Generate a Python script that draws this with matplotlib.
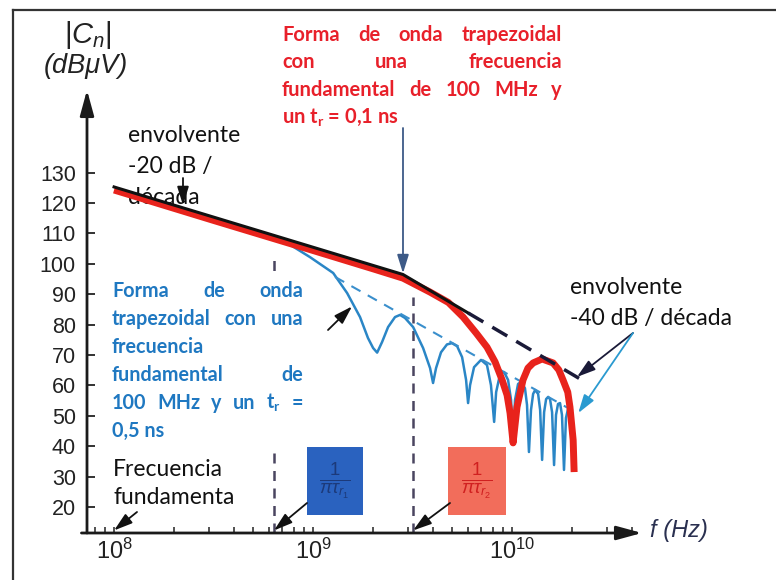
import numpy as np
import matplotlib
matplotlib.use("Agg")
import matplotlib.pyplot as plt
import matplotlib.transforms as mtransforms
from matplotlib.patches import Rectangle
from matplotlib.ticker import LogLocator, NullFormatter, FixedLocator

plt.rcParams['font.family'] = ['Liberation Sans', 'DejaVu Sans']
plt.rcParams['mathtext.fontset'] = 'custom'
plt.rcParams['mathtext.rm'] = 'Liberation Sans'
plt.rcParams['mathtext.it'] = 'Liberation Sans:italic'

W, H = 776, 580

# parámetros de las señales trapezoidales
f0 = 100e6
tr1 = 0.5e-9
tr2 = 0.1e-9

# espectro con tr = 0,1 ns (GHz, dBuV)
red_ghz = [0.1, 0.316, 1.0, 1.995, 2.831, 3.873, 4.786, 5.675, 6.607, 7.482,
           8.222, 8.913, 9.441, 9.772, 10.12, 10.59, 11.35, 12.02, 12.76, 14.16,
           16.07, 17.18, 18.03, 19.05, 19.54, 20.28, 20.51]
red_db = [124.3, 114.3, 104.4, 98.4, 95.3, 90.7, 87.3, 82.5, 77.2, 72.6,
          67.7, 61.8, 56.8, 50.9, 41.1, 52.9, 61.8, 65.7, 67.4, 68.7,
          67.4, 65.1, 61.8, 57.8, 52.9, 42.0, 31.5]

# espectro con tr = 0,5 ns (GHz, dBuV)
blue_ghz = [0.766, 0.966, 1.262, 1.483, 1.722, 1.888, 2.004, 2.099, 2.223, 2.382,
            2.582, 2.735, 2.897, 3.184, 3.573, 3.873, 4.009, 4.150, 4.395, 4.710,
            4.989, 5.297, 5.610, 5.875, 6.012, 6.152, 6.442, 6.982, 7.482, 7.834,
            8.128, 8.318, 8.710, 9.120, 9.550, 9.886, 10.12, 10.35, 10.72, 11.09,
            11.61, 11.89, 12.16, 12.45, 12.76, 13.06, 13.52, 13.84, 14.16, 14.49,
            14.83, 15.17, 15.52, 15.89, 16.26, 16.63, 17.02, 17.42, 17.82, 18.24,
            18.66, 19.10, 19.54, 20.04, 20.28]
blue_db = [106.3, 102.2, 97.0, 90.4, 82.5, 75.6, 72.3, 70.8, 74.3, 79.2,
           82.5, 83.2, 82.2, 79.2, 72.3, 65.7, 60.8, 65.7, 70.9, 73.5,
           73.9, 72.9, 69.3, 61.8, 54.2, 60.1, 66.0, 68.4, 66.7, 60.1,
           48.0, 57.8, 63.8, 64.4, 61.8, 55.2, 42.0, 55.2, 60.5, 61.1,
           59.1, 53.6, 38.1, 51.9, 57.2, 58.5, 57.2, 51.9, 35.5, 51.2,
           55.5, 56.2, 55.5, 51.2, 33.8, 50.3, 53.9, 54.2, 50.3, 32.2,
           49.3, 52.2, 49.3, 42.0, 32.2]

# envolventes
env_solid_ghz = [0.1, 2.831, 6.03]
env_solid_db = [125.3, 96.5, 83.8]
env_dash_ghz = [6.03, 23.8]
env_dash_db = [83.8, 60.8]
env_blue_ghz = [1.29, 21.2]
env_blue_db = [95.7, 50.9]

yticks = list(range(20, 140, 10))
xticks = [1e8, 1e9, 1e10]
xtick_labels = ["$10^8$", "$10^9$", "$10^{10}$"]

red_f = np.array(red_ghz) * 1e9
blue_f = np.array(blue_ghz) * 1e9
fc1 = 1 / (np.pi * tr1)
fc2 = 1 / (np.pi * tr2)

fig = plt.figure(figsize=(W / 100, H / 100), dpi=100)
fig.patch.set_facecolor("white")
# coordenadas en pixeles desde la esquina superior izquierda
pix = mtransforms.Affine2D().scale(1 / W, -1 / H).translate(0, 1) + fig.transFigure

ax = fig.add_axes([87 / W, 1 - 533 / H, (642 - 87) / W, (533 - 90) / H])
ax.set_xscale("log")
ax.set_xlim(10 ** 7.864, 10 ** 10.653)
ax.set_ylim(11.45, 157.2)
ax.patch.set_alpha(0)
for s in ax.spines.values():
    s.set_visible(False)

ax.set_yticks(yticks)
ax.set_yticklabels([str(v) for v in yticks])
ax.xaxis.set_major_locator(FixedLocator(xticks))
ax.set_xticklabels(xtick_labels)
ax.xaxis.set_minor_locator(LogLocator(base=10, subs=np.arange(2, 10)))
ax.xaxis.set_minor_formatter(NullFormatter())
ax.tick_params(axis="y", direction="in", length=6, width=1.3, pad=8,
               labelsize=15.5, colors="#222222")
ax.tick_params(axis="x", which="both", direction="in", length=4.5, width=1.1,
               pad=4, labelsize=17, colors="#222222")

# ejes con flecha
arrow_axis = dict(arrowstyle="-|>,head_length=1.1,head_width=0.3", lw=2,
                  color="#1a1a1a", shrinkA=0, shrinkB=0, mutation_scale=14)
ax.annotate("", xy=(1, 0), xytext=(-0.01, 0), xycoords="axes fraction",
            arrowprops=arrow_axis, annotation_clip=False)
ax.annotate("", xy=(0, 1), xytext=(0, 0), xycoords="axes fraction",
            arrowprops=arrow_axis, annotation_clip=False)

# frecuencias de corte
vstyle = dict(color="#4a4560", lw=1.8, ls=(0, (4, 3)), zorder=1)
ax.plot([fc1, fc1], [11.45, 102.9], **vstyle)
ax.plot([fc2, fc2], [11.45, 89.1], **vstyle)

# curvas
ax.plot(blue_f, blue_db, color="#2a86c6", lw=1.8, zorder=2)
ax.plot(np.array(env_blue_ghz) * 1e9, env_blue_db, color="#3a8fcc", lw=1.5,
        ls=(0, (5, 4)), zorder=2)
ax.plot(red_f, red_db, color="#e8231c", lw=5, zorder=3, solid_capstyle="butt")
ax.plot(np.array(env_solid_ghz) * 1e9, env_solid_db, color="#111111", lw=2.2, zorder=4)
ax.plot(np.array(env_dash_ghz) * 1e9, env_dash_db, color="#1a1a38", lw=2.5,
        ls=(0, (5, 3)), zorder=4)

# etiquetas de ejes
ax.text(88, 35, "$|C_n|$", transform=pix, ha="center", va="center", fontsize=21,
        color="#222222")
ax.text(86, 66, "(dBμV)", transform=pix, ha="center", va="center", fontsize=19.5,
        style="italic", color="#222222")
ax.text(650, 531, "f (Hz)", transform=pix, ha="left", va="center", fontsize=17,
        style="italic", color="#2a3050")

r = fig.canvas.get_renderer()


def justified(lines, x0, x1, y0, dy, **kw):
    for i, (words, just) in enumerate(lines):
        y = y0 + i * dy
        if not just:
            ax.text(x0, y, " ".join(words), transform=pix, ha="left", va="center", **kw)
            continue
        objs = [ax.text(0, y, w, transform=pix, ha="left", va="center", **kw) for w in words]
        widths = [t.get_window_extent(r).width for t in objs]
        gap = (x1 - x0 - sum(widths)) / (len(words) - 1)
        x = x0
        for t, w in zip(objs, widths):
            t.set_position((x, y))
            x += w + gap


tr_sub = "t$_\\mathregular{r}$"
red_kw = dict(family="Lato", weight="bold", fontsize=14.5, color="#e8202a")
justified([(["Forma", "de", "onda", "trapezoidal"], True),
           (["con", "una", "frecuencia"], True),
           (["fundamental", "de", "100", "MHz", "y"], True),
           (["un", tr_sub, "=", "0,1", "ns"], False)],
          282, 562, 35, 27.3, **red_kw)

# fondo blanco bajo el texto azul
ax.add_patch(Rectangle((100, 273), 212, 178, transform=pix, facecolor="white",
                       edgecolor="none", zorder=1.5, clip_on=False))
blue_kw = dict(family="Lato", weight="bold", fontsize=14.2, color="#1f78c1", zorder=3)
justified([(["Forma", "de", "onda"], True),
           (["trapezoidal", "con", "una"], True),
           (["frecuencia"], False),
           (["fundamental", "de"], True),
           (["100", "MHz", "y", "un", tr_sub, "="], True),
           (["0,5", "ns"], False)],
          112, 303, 291, 28, **blue_kw)

black_kw = dict(family="Lato", fontsize=16.5, color="#111111", zorder=1)
for i, s in enumerate(["envolvente", "-20 dB /", "década"]):
    ax.text(128, 135 + i * 31, s, transform=pix, ha="left", va="center", **black_kw)
for i, s in enumerate(["envolvente", "-40 dB / década"]):
    ax.text(570, 287 + i * 31, s, transform=pix, ha="left", va="center", **black_kw)
for i, s in enumerate(["Frecuencia", "fundamenta"]):
    ax.text(113, 469 + i * 28, s, transform=pix, ha="left", va="center", **black_kw)

# cajas 1/(pi tr)
ax.add_patch(Rectangle((307, 447), 56, 68, transform=pix, facecolor="#2a62bf",
                       edgecolor="none", zorder=3, clip_on=False))
ax.add_patch(Rectangle((448, 447), 58, 68, transform=pix, facecolor="#f26d5b",
                       edgecolor="none", zorder=3, clip_on=False))
ax.text(335, 481, r"$\frac{1}{\pi\tau_{r_1}}$", transform=pix, ha="center",
        va="center", fontsize=19, color="#1c3a7a", zorder=4)
ax.text(477, 481, r"$\frac{1}{\pi\tau_{r_2}}$", transform=pix, ha="center",
        va="center", fontsize=19, color="#d02020", zorder=4)

# flechas
def arrow(xy, start, color="#111111", lw=1.3):
    ax.annotate("", xy=xy, xycoords="data", xytext=start, textcoords=pix,
                arrowprops=dict(arrowstyle="-|>,head_length=0.8,head_width=0.25",
                                color=color, lw=lw, shrinkA=0, shrinkB=0,
                                mutation_scale=14), zorder=5, annotation_clip=False)


arrow((2.831e9, 96.9), (403, 128), color="#3d5a87")
arrow((2.22e8, 119.3), (183, 178))
arrow((1.57e9, 86.0), (328, 330))
arrow((2.12e10, 62.8), (633, 333), color="#1a1a38")
arrow((2.15e10, 50.9), (633, 333), color="#2a9ad0")
arrow((f0, 12.3), (137, 512))
arrow((fc1, 12.3), (307, 503))
arrow((fc2, 12.3), (450, 503))

# marco
fig.add_artist(plt.Line2D([13, W], [10, 10], transform=pix, color="#333333", lw=1.6))
fig.add_artist(plt.Line2D([13, 13], [10, H], transform=pix, color="#333333", lw=1.6))

fig.savefig("out.png", dpi=100)
